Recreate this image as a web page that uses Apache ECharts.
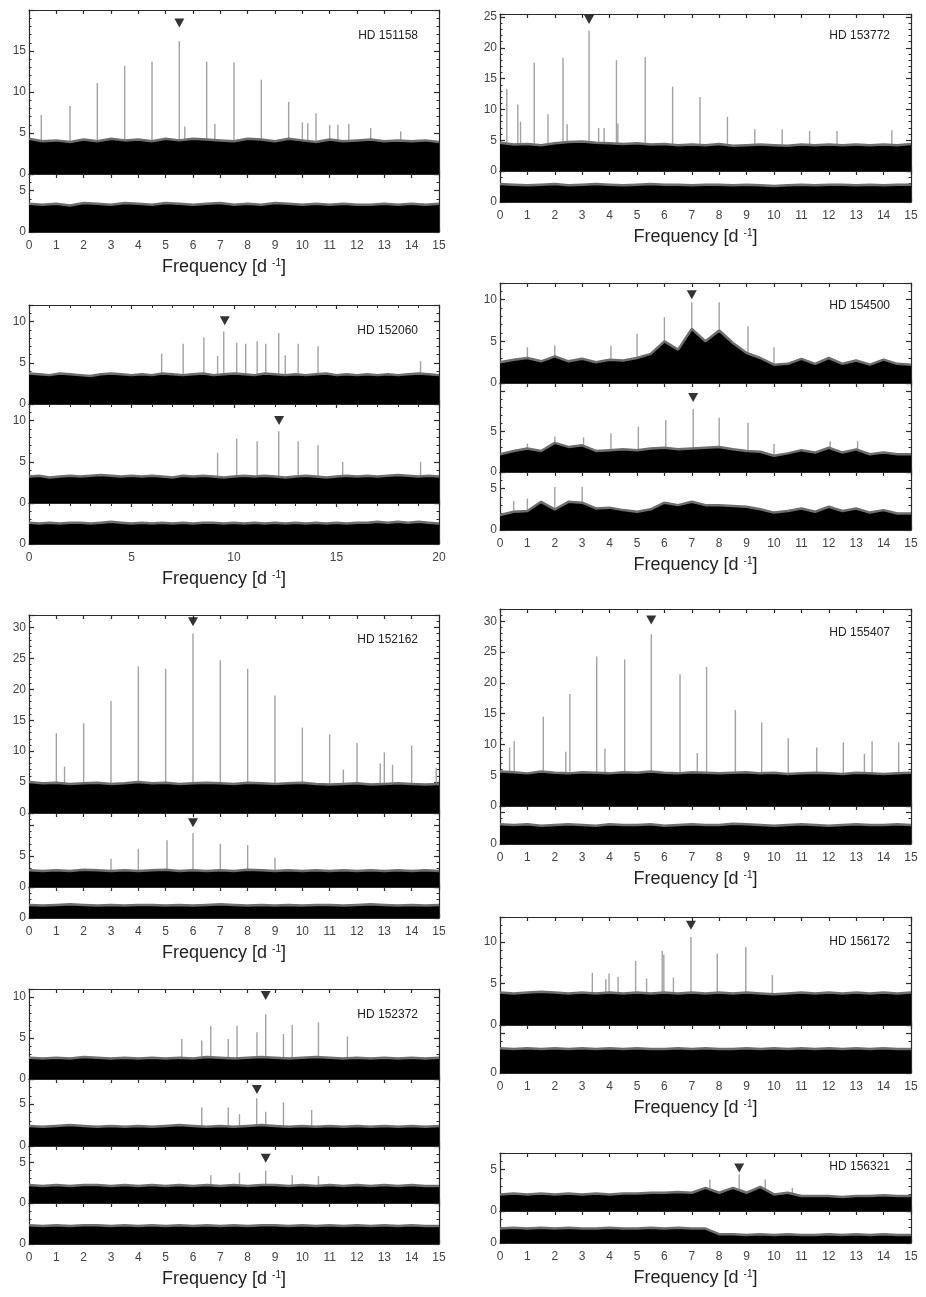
<!DOCTYPE html>
<html>
<head>
<meta charset="utf-8">
<script src="https://cdn.jsdelivr.net/npm/echarts@6/dist/echarts.min.js"></script>
<style>
html,body{margin:0;padding:0;background:#fff;}
#c{width:926px;height:1297px;}
</style>
</head>
<body>
<div id="c"></div>
<script>
// ---------------- DATA ----------------
// noise envelopes: amplitude at frequency steps of 0.5 d^-1 starting at 0
const noiseStep = 0.5;
const n151158a = [4.3,4.0,4.1,3.9,4.2,4.0,4.3,4.1,4.2,4.0,4.3,4.1,4.3,4.2,4.1,4.0,4.3,4.2,4.0,4.3,4.1,3.9,4.2,4.0,4.1,4.2,4.0,4.1,4.0,4.1,3.9];
const n151158b = [3.4,3.3,3.4,3.2,3.5,3.4,3.3,3.5,3.4,3.3,3.5,3.4,3.3,3.4,3.5,3.3,3.4,3.3,3.5,3.4,3.3,3.4,3.3,3.4,3.3,3.3,3.4,3.3,3.4,3.3,3.4];
const n153772a = [4.6,4.3,4.4,4.2,4.5,4.7,4.8,4.6,4.5,4.4,4.5,4.3,4.4,4.2,4.3,4.2,4.4,4.1,4.2,4.3,4.2,4.1,4.3,4.2,4.3,4.2,4.3,4.2,4.3,4.2,4.4];
const n153772b = [2.9,2.8,2.7,2.8,2.9,2.7,2.8,2.9,2.8,2.7,2.8,2.9,2.8,2.8,2.7,2.8,2.8,2.7,2.8,2.7,2.6,2.7,2.8,2.7,2.8,2.8,2.7,2.8,2.7,2.8,2.8];
const n152060a = [3.7,3.6,3.5,3.7,3.6,3.5,3.4,3.6,3.7,3.6,3.5,3.6,3.5,3.7,3.6,3.5,3.6,3.7,3.5,3.6,3.7,3.6,3.5,3.7,3.6,3.5,3.6,3.5,3.6,3.7,3.5,3.6,3.5,3.6,3.5,3.6,3.5,3.6,3.7,3.6,3.5];
const n152060b = [3.2,3.3,3.1,3.2,3.3,3.2,3.3,3.4,3.3,3.2,3.3,3.2,3.3,3.2,3.1,3.3,3.2,3.3,3.2,3.1,3.2,3.3,3.2,3.3,3.2,3.1,3.2,3.3,3.2,3.1,3.2,3.3,3.2,3.3,3.2,3.3,3.4,3.3,3.2,3.3,3.2];
const n152060c = [2.6,2.5,2.6,2.5,2.6,2.6,2.5,2.6,2.7,2.6,2.5,2.6,2.5,2.6,2.5,2.6,2.5,2.6,2.6,2.5,2.6,2.5,2.6,2.5,2.6,2.5,2.6,2.5,2.6,2.5,2.6,2.5,2.6,2.6,2.7,2.6,2.7,2.6,2.7,2.6,2.5];
const n154500a = [2.5,2.8,3.0,2.6,3.2,2.6,2.9,2.5,2.8,2.7,3.0,3.5,5.0,4.0,6.5,5.0,6.3,4.8,3.6,3.0,2.2,2.3,2.9,2.3,3.0,2.3,2.7,2.2,2.8,2.3,2.2];
const n154500b = [2.2,2.6,2.9,2.6,3.6,3.1,3.3,2.6,2.7,2.8,2.7,2.9,3.0,2.8,2.9,3.0,3.1,2.8,2.6,2.5,2.0,2.3,2.7,2.4,3.0,2.4,2.8,2.2,2.4,2.2,2.2];
const n154500c = [1.8,2.2,2.3,3.4,2.5,3.4,3.3,2.6,2.7,2.4,2.2,2.5,3.3,3.0,3.4,3.0,3.0,2.9,2.8,2.5,2.1,2.3,2.6,2.2,2.8,2.3,2.6,2.1,2.4,2.0,2.0];
const n152162a = [5.0,4.8,4.9,4.7,4.8,4.9,4.7,4.8,5.0,4.8,4.9,4.7,4.8,4.9,4.8,4.7,4.9,4.8,4.7,4.8,4.9,4.7,4.6,4.7,4.8,4.6,4.7,4.8,4.7,4.6,4.7];
const n152162b = [2.7,2.6,2.7,2.6,2.8,2.7,2.6,2.7,2.6,2.7,2.8,2.6,2.7,2.6,2.7,2.6,2.8,2.7,2.6,2.7,2.6,2.7,2.6,2.7,2.6,2.7,2.6,2.7,2.6,2.7,2.6];
const n152162c = [2.1,2.0,2.1,2.2,2.1,2.0,2.1,2.0,2.1,2.1,2.0,2.1,2.0,2.1,2.2,2.1,2.0,2.1,2.0,2.1,2.0,2.1,2.1,2.0,2.1,2.2,2.1,2.0,2.1,2.0,2.1];
const n155407a = [5.6,5.5,5.3,5.6,5.4,5.3,5.5,5.4,5.3,5.5,5.4,5.6,5.4,5.3,5.5,5.4,5.3,5.4,5.5,5.3,5.4,5.2,5.3,5.4,5.3,5.2,5.4,5.3,5.2,5.3,5.4];
const n155407b = [3.1,3.0,3.1,2.9,3.0,3.1,3.0,2.9,3.1,3.0,3.0,3.1,2.9,3.0,3.1,3.0,3.0,3.2,3.1,3.0,2.9,3.0,3.1,3.0,2.9,3.0,3.1,3.0,3.0,3.1,3.0];
const n152372a = [2.6,2.5,2.6,2.5,2.7,2.6,2.5,2.6,2.5,2.6,2.5,2.6,2.5,2.7,2.6,2.5,2.6,2.7,2.6,2.5,2.6,2.7,2.6,2.5,2.6,2.5,2.6,2.5,2.6,2.5,2.6];
const n152372b = [2.4,2.3,2.4,2.5,2.4,2.3,2.4,2.3,2.4,2.3,2.4,2.5,2.4,2.3,2.4,2.3,2.4,2.5,2.4,2.3,2.4,2.3,2.4,2.3,2.4,2.3,2.4,2.3,2.4,2.3,2.4];
const n152372c = [2.2,2.1,2.2,2.1,2.2,2.2,2.1,2.2,2.1,2.2,2.1,2.2,2.1,2.2,2.1,2.2,2.1,2.2,2.2,2.1,2.2,2.1,2.2,2.1,2.2,2.1,2.2,2.1,2.2,2.1,2.1];
const n152372d = [2.3,2.2,2.3,2.2,2.3,2.3,2.2,2.3,2.2,2.3,2.2,2.3,2.2,2.3,2.2,2.3,2.2,2.3,2.3,2.2,2.3,2.2,2.3,2.2,2.3,2.2,2.3,2.2,2.3,2.2,2.2];
const n156172a = [3.9,3.8,3.9,4.0,3.9,3.8,3.9,3.8,3.9,3.8,3.9,3.8,3.9,3.8,3.9,3.8,3.9,3.8,3.9,3.8,3.7,3.8,3.9,3.8,3.9,3.8,3.9,3.8,3.9,3.8,3.9];
const n156172b = [3.1,3.0,3.1,3.0,3.1,3.0,3.1,3.0,3.1,3.0,3.1,3.0,3.0,3.1,3.0,3.1,3.0,3.0,3.1,3.0,3.1,3.0,3.1,3.0,3.1,3.0,3.1,3.0,3.1,3.0,3.0];
const n156321a = [2.0,2.1,2.0,2.1,2.0,2.1,2.0,2.1,2.0,2.1,2.1,2.2,2.2,2.3,2.2,2.8,2.2,2.8,2.2,2.9,2.0,2.2,1.8,1.8,1.8,1.7,1.8,1.8,1.9,1.8,1.8];
const n156321b = [1.8,1.9,1.8,1.9,1.8,1.9,1.8,1.8,1.9,1.8,1.8,1.9,1.8,1.9,1.8,1.8,1.1,1.1,1.0,1.1,1.0,1.1,1.0,1.0,1.1,1.0,1.1,1.0,1.1,1.0,1.0];

// peaks [frequency, amplitude]
const p151158a = [[0.45,7.2],[1.5,8.3],[2.5,11.1],[3.5,13.2],[4.5,13.7],[5.5,16.2],[6.5,13.7],[7.5,13.6],[8.5,11.5],[9.5,8.8],[10.5,7.4],[5.7,5.8],[6.8,6.1],[10.0,6.3],[10.2,6.2],[11.0,6.0],[11.3,6.0],[11.7,6.1],[12.5,5.6],[13.6,5.2]];
const p153772a = [[0.25,13.3],[0.65,10.8],[0.75,8.0],[1.25,17.6],[1.75,9.2],[2.3,18.4],[2.45,7.6],[3.25,22.8],[3.6,7.0],[3.8,7.0],[4.25,18.0],[4.3,7.7],[5.3,18.5],[6.3,13.7],[7.3,12.0],[8.3,8.8],[9.3,6.8],[10.3,6.8],[11.3,6.5],[12.3,6.5],[14.3,6.6]];
const p152060a = [[6.47,6.1],[7.52,7.3],[8.53,8.1],[9.2,5.8],[9.5,8.8],[10.13,7.4],[10.57,7.3],[11.13,7.6],[11.55,7.3],[12.18,8.6],[12.5,5.9],[13.13,7.3],[14.1,7.0],[19.1,5.2]];
const p152060b = [[9.2,6.1],[10.13,7.8],[11.13,7.5],[12.18,8.7],[13.13,7.5],[14.1,7.0],[15.3,5.0],[19.1,5.0]];
const p154500a = [[1.0,4.3],[2.0,4.5],[4.05,4.5],[5.0,5.9],[6.0,7.9],[7.0,9.7],[8.0,9.7],[9.05,6.8],[10.0,4.3]];
const p154500b = [[1.0,3.5],[2.0,4.4],[3.05,4.3],[4.05,4.8],[5.05,5.6],[6.05,6.4],[7.05,7.8],[8.0,6.7],[9.05,6.1],[10.0,3.5],[12.05,3.8],[13.05,3.8]];
const p154500c = [[0.5,3.5],[1.0,3.8],[2.0,5.2],[3.0,5.2]];
const p152162a = [[1.0,12.9],[1.3,7.5],[2.0,14.5],[3.0,18.1],[4.0,23.7],[5.0,23.3],[6.0,29.0],[7.0,24.7],[8.0,23.3],[9.0,19.0],[10.0,13.8],[11.0,12.7],[11.5,7.0],[12.0,11.3],[12.85,8.0],[13.0,9.8],[13.3,7.8],[14.0,10.9],[14.9,7.3]];
const p152162b = [[3.0,4.6],[4.0,6.2],[5.05,7.6],[6.0,8.7],[7.0,7.0],[8.0,6.8],[9.0,4.8]];
const p155407a = [[0.35,9.5],[0.52,10.5],[1.58,14.5],[2.4,8.8],[2.55,18.2],[3.53,24.3],[3.83,9.3],[4.55,23.8],[5.52,27.9],[6.57,21.4],[7.2,8.6],[7.54,22.6],[8.59,15.6],[9.55,13.6],[10.52,11.0],[11.56,9.5],[12.53,10.3],[13.3,8.5],[13.58,10.5],[14.55,10.3]];
const p152372a = [[5.59,4.9],[6.32,4.7],[6.65,6.5],[7.29,4.9],[7.61,6.5],[8.34,5.7],[8.66,7.9],[9.31,5.5],[9.63,6.6],[10.59,6.9],[11.65,5.2]];
const p152372b = [[6.32,4.6],[7.29,4.6],[7.7,3.8],[8.33,5.7],[8.66,4.1],[9.31,5.2],[10.34,4.3]];
const p152372c = [[6.65,3.4],[7.7,3.7],[8.66,4.0],[9.63,3.4],[10.59,3.3]];
const p156172a = [[3.37,6.3],[3.86,5.5],[3.98,6.2],[4.31,5.8],[4.95,7.7],[5.35,5.6],[5.92,8.9],[5.98,8.5],[6.33,5.7],[6.97,10.6],[7.93,8.6],[8.97,9.4],[9.94,6.0]];
const p156321a = [[7.66,3.8],[8.73,4.4],[9.68,3.8],[10.67,2.8]];

// identified frequencies (triangle markers) [frequency, amplitude]
const m151158a = [[5.5,18.4]];
const m153772a = [[3.25,24.6]];
const m152060a = [[9.55,10.1]];
const m152060b = [[12.2,10.0]];
const m154500a = [[7.0,10.6]];
const m154500b = [[7.05,9.2]];
const m152162a = [[6.0,30.9]];
const m152162b = [[6.0,10.4]];
const m155407a = [[5.52,30.2]];
const m152372a = [[8.66,10.2]];
const m152372b = [[8.34,6.75]];
const m152372c = [[8.66,5.5]];
const m156172a = [[6.97,12.0]];
const m156321a = [[8.73,5.2]];

const starNames = ['HD 151158','HD 153772','HD 152060','HD 154500','HD 152162','HD 155407','HD 152372','HD 156172','HD 156321'];
const xTitle = 'Frequency [d {sup|-1}]';

// ---------------- LAYOUT ----------------
const L = {x:29, w:410}, R = {x:500, w:411};
const panels = [
  // left column
  {c:L, top:10,  bot:174, ymax:20, lab:15, noise:n151158a, peaks:p151158a, marks:m151158a, xmax:15},
  {c:L, top:174, bot:232, ymax:7,  lab:5,  noise:n151158b, xmax:15, showX:true},
  {c:L, top:305, bot:404, ymax:12, lab:10, noise:n152060a, peaks:p152060a, marks:m152060a, xmax:20},
  {c:L, top:404, bot:503, ymax:12, lab:10, noise:n152060b, peaks:p152060b, marks:m152060b, xmax:20},
  {c:L, top:503, bot:544, ymax:5,  lab:0,  noise:n152060c, xmax:20, showX:true},
  {c:L, top:615, bot:813, ymax:32, lab:30, noise:n152162a, peaks:p152162a, marks:m152162a, xmax:15},
  {c:L, top:813, bot:887, ymax:12, lab:5,  noise:n152162b, peaks:p152162b, marks:m152162b, xmax:15},
  {c:L, top:887, bot:918, ymax:5,  lab:0,  noise:n152162c, xmax:15, showX:true},
  {c:L, top:989, bot:1079, ymax:11, lab:10, noise:n152372a, peaks:p152372a, marks:m152372a, xmax:15},
  {c:L, top:1079, bot:1146, ymax:8, lab:5, noise:n152372b, peaks:p152372b, marks:m152372b, xmax:15},
  {c:L, top:1146, bot:1203, ymax:7, lab:5, noise:n152372c, peaks:p152372c, marks:m152372c, xmax:15},
  {c:L, top:1203, bot:1244, ymax:5, lab:0, noise:n152372d, xmax:15, showX:true},
  // right column
  {c:R, top:14,  bot:171, ymax:25.5, lab:25, noise:n153772a, peaks:p153772a, marks:m153772a, xmax:15},
  {c:R, top:171, bot:202, ymax:5,  lab:0,  noise:n153772b, xmax:15, showX:true},
  {c:R, top:283, bot:383, ymax:12, lab:10, noise:n154500a, peaks:p154500a, marks:m154500a, xmax:15},
  {c:R, top:383, bot:472, ymax:11, lab:5,  noise:n154500b, peaks:p154500b, marks:m154500b, xmax:15},
  {c:R, top:472, bot:530, ymax:7,  lab:5,  noise:n154500c, peaks:p154500c, xmax:15, showX:true},
  {c:R, top:609, bot:806, ymax:32, lab:30, noise:n155407a, peaks:p155407a, marks:m155407a, xmax:15},
  {c:R, top:806, bot:844, ymax:6,  lab:0,  noise:n155407b, xmax:15, showX:true},
  {c:R, top:917, bot:1025, ymax:13, lab:10, noise:n156172a, peaks:p156172a, marks:m156172a, xmax:15},
  {c:R, top:1025, bot:1073, ymax:6, lab:0, noise:n156172b, xmax:15, showX:true},
  {c:R, top:1153, bot:1211, ymax:7, lab:5, noise:n156321a, peaks:p156321a, marks:m156321a, xmax:15},
  {c:R, top:1211, bot:1243, ymax:4, lab:0, noise:n156321b, xmax:15, showX:true}
];
const labels = [
  {name:0, x:418, y:37},{name:1, x:890, y:37},{name:2, x:418, y:332},{name:3, x:890, y:307},
  {name:4, x:418, y:641},{name:5, x:890, y:634},{name:6, x:418, y:1016},{name:7, x:890, y:943},{name:8, x:890, y:1168}
];

const FONT = '"Liberation Sans", Arial, Helvetica, sans-serif';
const AX = '#2a2a2a';
const grid=[], xAxis=[], yAxis=[], series=[];

panels.forEach((p,i)=>{
  grid.push({left:p.c.x, top:p.top, width:p.c.w, height:p.bot-p.top, show:false});
  const xint = p.xmax===20 ? 5 : 1;
  const xBase = {
    gridIndex:i, type:'value', min:0, max:p.xmax, interval:xint,
    axisLine:{show:true, onZero:false, lineStyle:{color:AX, width:1.2}},
    axisTick:{show:true, inside:true, length:4, lineStyle:{color:AX, width:1.2}},
    minorTick:{show:xint===5, splitNumber:5, length:3, lineStyle:{color:AX}},
    splitLine:{show:false}, minorSplitLine:{show:false}
  };
  xAxis.push(Object.assign({}, xBase, {
    position:'bottom',
    axisLabel:{show:!!p.showX, color:'#444', fontSize:12, fontFamily:FONT, margin:8},
    name: p.showX ? xTitle : '', nameLocation:'middle', nameGap:26,
    nameTextStyle:{color:'#222', fontSize:18, fontFamily:FONT, padding:[0,20,0,0],
      rich:{sup:{fontSize:10, fontFamily:FONT, color:'#222', verticalAlign:'top', padding:[0,0,9,0]}}}
  }));
  xAxis.push(Object.assign({}, xBase, {position:'top', axisLabel:{show:false}}));
  const yBase = {
    gridIndex:i, type:'value', min:0, max:p.ymax, interval:5,
    axisLine:{show:true, onZero:false, lineStyle:{color:AX, width:1.2}},
    axisTick:{show:true, inside:true, length:5, lineStyle:{color:AX, width:1.2}},
    minorTick:{show:true, splitNumber:5, length:2.5, lineStyle:{color:AX}},
    splitLine:{show:false}, minorSplitLine:{show:false}
  };
  const lab = p.lab;
  yAxis.push(Object.assign({}, yBase, {position:'left',
    axisLabel:{show:true, color:'#444', fontSize:12, fontFamily:FONT, margin:3,
      showMaxLabel:true,
      formatter:(v)=> (v%5===0 && v<=lab) ? String(v) : ''}}));
  yAxis.push(Object.assign({}, yBase, {position:'right', axisLabel:{show:false}}));

  if (p.peaks) series.push({
    type:'bar', xAxisIndex:2*i, yAxisIndex:2*i, data:p.peaks, barWidth:1.4,
    itemStyle:{color:'#a2a2a2'}, z:2, silent:true
  });
  series.push({
    type:'line', xAxisIndex:2*i, yAxisIndex:2*i,
    data:p.noise.map((v,k)=>[k*noiseStep, v]), symbol:'none',
    lineStyle:{color:'#6e6e6e', width:2.5}, areaStyle:{color:'#000', opacity:1},
    z:3, silent:true
  });
  if (p.marks) series.push({
    type:'scatter', xAxisIndex:2*i, yAxisIndex:2*i, data:p.marks,
    symbol:'triangle', symbolRotate:180, symbolSize:[10,9],
    itemStyle:{color:'#000'}, z:5, silent:true
  });
});

const graphic = labels.map(l=>({
  type:'text', right: 926 - l.x, top: l.y - 7, silent:true,
  style:{text:starNames[l.name], fill:'#222', font:'12px ' + FONT, textAlign:'right'}
}));

const chart = echarts.init(document.getElementById('c'), null, {renderer:'canvas'});
chart.setOption({
  animation:false, backgroundColor:'#fff',
  grid, xAxis, yAxis, series, graphic
});
</script>
</body>
</html>
